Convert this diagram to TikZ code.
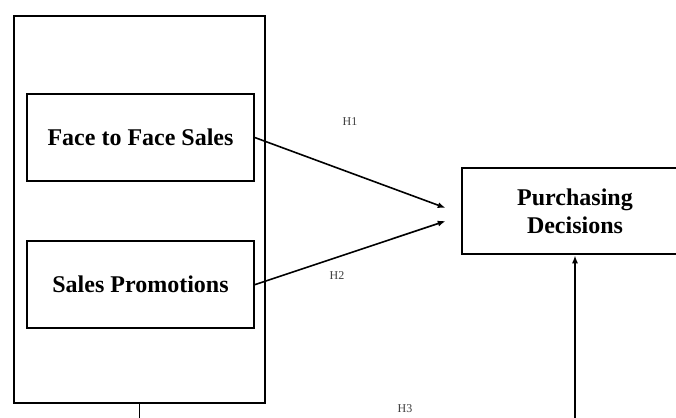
\documentclass[tikz,border=0pt]{standalone}
\usepackage{fontspec}
\setmainfont{Liberation Serif}
\usetikzlibrary{positioning, arrows.meta, calc}

\begin{document}
\begin{tikzpicture}[x=0.75pt, y=-0.75pt,
 framenode/.style={rectangle, draw=black, line width=1.4pt, minimum width=188pt, minimum height=290pt},
 varnode/.style={rectangle, draw=black, line width=1.4pt, minimum width=170pt, minimum height=65pt, font=\fontsize{18}{21}\selectfont\bfseries, align=center},
 hyponode/.style={font=\fontsize{9}{11}\selectfont, text=black!75},
 arrowline/.style={-{Latex[length=6pt,width=4.5pt]}, line width=1.2pt},
 plainline/.style={line width=1.3pt},
 ]
 \clip (0,0) rectangle (676,418);
 %Nodes
 \node[framenode]  (group_node)    at (139.5,209.5) {};
 \node[varnode]    (face_node)     at (140.5,137.5) {Face to Face Sales};
 \node[varnode]    (promo_node)    [below=44pt of face_node] {Sales Promotions};
 \node[varnode]    (decision_node) at (575,211) {Purchasing\\Decisions};

 \node[hyponode]   (h1_label)      at (350,122) {H1};
 \node[hyponode]   (h2_label)      at (337,276) {H2};
 \node[hyponode]   (h3_label)      at (405,409) {H3};

 %Ends
 \coordinate (h1_end)      at ($(decision_node.west)+(-15,-3)$);
 \coordinate (h2_end)      at ($(decision_node.west)+(-15,10)$);
 \coordinate (left_end)    at ($(group_node.south)+(0,20)$);
 \coordinate (right_start) at ($(decision_node.south)+(0,170)$);

 %Lines
 \draw[arrowline] (face_node.east) -- (h1_end);
 \draw[arrowline] (promo_node.east) -- (h2_end);
 \draw[plainline] (group_node.south) -- (left_end);
 \draw[arrowline] (right_start) -- (decision_node.south);
\end{tikzpicture}
\end{document}
